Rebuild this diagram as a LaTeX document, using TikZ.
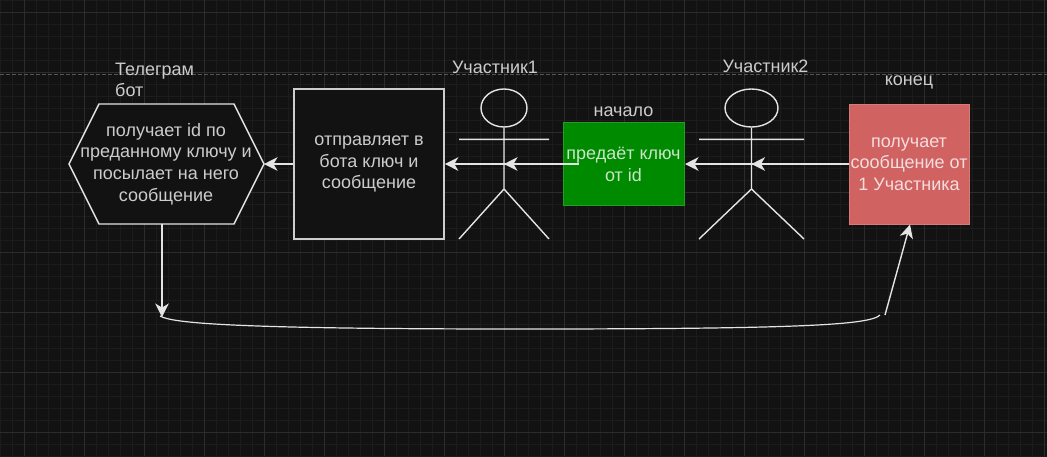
\documentclass[tikz,border=0pt]{standalone}
\usepackage{fontspec}
\setmainfont{Liberation Sans}
\usetikzlibrary{arrows.meta,shapes.geometric}
\definecolor{bgc}{HTML}{121212}
\definecolor{minorc}{HTML}{1C1C1C}
\definecolor{majorc}{HTML}{2C2C2C}
\definecolor{linec}{HTML}{E4E4E4}
\definecolor{boxc}{HTML}{CDCDCD}
\definecolor{txtc}{HTML}{CCCCCC}
\definecolor{greenc}{HTML}{008A00}
\definecolor{redc}{HTML}{D06262}
\tikzset{
  x=1pt,y=-1pt,
  lbl/.style={font=\fontsize{18}{21.6}\selectfont,text=txtc,align=center,inner sep=0pt},
  shapeline/.style={draw=linec,line width=1.4pt},
  flow/.style={draw=linec,line width=1.4pt,-{Stealth[length=13.5pt,width=13.5pt,inset=4pt]}},
  plain/.style={draw=linec,line width=1.4pt},
  headstyle/.style={draw=linec,line width=1.4pt,ellipse,inner sep=0pt},
}
\begin{document}
\begin{tikzpicture}
\useasboundingbox (0,0) rectangle (1047,456);
\fill[bgc] (0,0) rectangle (1047,456);
% grid
\foreach \gx in {0,...,87} {\draw[minorc,line width=.6pt] ({0.7+12*\gx},0) -- ({0.7+12*\gx},456);}
\foreach \gy in {0,...,38} {\draw[minorc,line width=.6pt] (0,{12*\gy}) -- (1047,{12*\gy});}
\foreach \gx in {0,...,17} {\draw[majorc,line width=.7pt] ({24.7+60*\gx},0) -- ({24.7+60*\gx},456);}
\foreach \gy in {0,...,7} {\draw[majorc,line width=.7pt] (0,{12+60*\gy}) -- (1047,{12+60*\gy});}
\coordinate (dl) at (0,74);
\coordinate (dr) at (1047,74);
\draw[majorc!80!white,line width=.7pt,dash pattern=on 4pt off 2pt] (dl) -- (dr);
% hexagon
\coordinate (hl) at (69,164);
\coordinate (htl) at (99,104);
\coordinate (htr) at (234,104);
\coordinate (hr) at (264,164);
\coordinate (hbr) at (234,224);
\coordinate (hbl) at (99,224);
\coordinate (hb) at (162,224);
\draw[shapeline,fill=bgc] (hl) -- (htl) -- (htr) -- (hr) -- (hbr) -- (hbl) -- cycle;
\node[lbl] (hextext) at (166,164) {получает id по\\преданному ключу и\\посылает на него\\сообщение};
% box
\node[draw=boxc,line width=1.6pt,fill=bgc,minimum width=150pt,minimum height=150pt,inner sep=0pt] (sendbox) at (369,164) {};
\node[lbl] (sendtext) at (369,164) {отправляет в\\бота ключ и\\сообщение};
% green
\node[draw=greenc!85!white,fill=greenc,line width=1pt,minimum width=121pt,minimum height=83pt,inner sep=0pt] (startbox) at (624,164) {};
\coordinate (starttail) at (579,164);
% red
\node[draw=redc!85!white,fill=redc,line width=1pt,minimum width=120pt,minimum height=120pt,inner sep=0pt] (endbox) at (909,164) {};
% actor 1
\node[headstyle,minimum width=46pt,minimum height=38pt] (head1) at (504,108) {};
\coordinate (neck1) at (head1.south);
\coordinate (hip1) at (504,189);
\coordinate (arm1l) at (459,139.4);
\coordinate (arm1r) at (549,139.4);
\coordinate (leg1l) at (459,239);
\coordinate (leg1r) at (549,239);
\coordinate (mid1) at (504,164);
\draw[plain] (neck1) -- (hip1) (arm1l) -- (arm1r) (hip1) -- (leg1l) (hip1) -- (leg1r);
% actor 2
\node[headstyle,minimum width=53pt,minimum height=38pt] (head2) at (751.5,108) {};
\coordinate (neck2) at (head2.south);
\coordinate (hip2) at (751.5,189);
\coordinate (arm2l) at (699,139.4);
\coordinate (arm2r) at (804,139.4);
\coordinate (leg2l) at (699,239);
\coordinate (leg2r) at (804,239);
\coordinate (mid2) at (751.5,164);
\draw[plain] (neck2) -- (hip2) (arm2l) -- (arm2r) (hip2) -- (leg2l) (hip2) -- (leg2r);
% connectors
\draw[flow] (sendbox.west) -- (hr);
\draw[flow] (starttail) -- (sendbox.east);
\draw[flow] (starttail) -- (mid1);
\draw[flow] (endbox.west) -- (startbox.east);
\draw[flow] (endbox.west) -- (mid2);
\coordinate (drop) at (162,317);
\draw[flow] (hb) -- (drop);
\coordinate (curveL) at (160,316);
\coordinate (curveM) at (520,329);
\coordinate (curveR) at (880,315);
\draw[plain,line width=1.2pt] (curveL) .. controls (172,323) and (230,329) .. (curveM) .. controls (800,329) and (870,325) .. (curveR);
\coordinate (riseS) at (885,315);
\coordinate (riseE) at (910,224.5);
\draw[flow] (riseS) -- (riseE);
% labels
\node[lbl,text=white!78!greenc] (startbody) at (623.5,164.5) {предаёт ключ\\от id};
\node[lbl,text=white!78!redc] (endbody) at (909,164) {получает\\сообщение от\\1 Участника};
\node[lbl,align=left,anchor=north west] (botlabel) at (115,62.5) {Телеграм\\бот};
\node[lbl] (a1label) at (495,67) {Участник1};
\node[lbl] (a2label) at (765.5,66.5) {Участник2};
\node[lbl] (startlabel) at (623.5,112) {начало};
\node[lbl] (endlabel) at (909,82) {конец};
\end{tikzpicture}
\end{document}
